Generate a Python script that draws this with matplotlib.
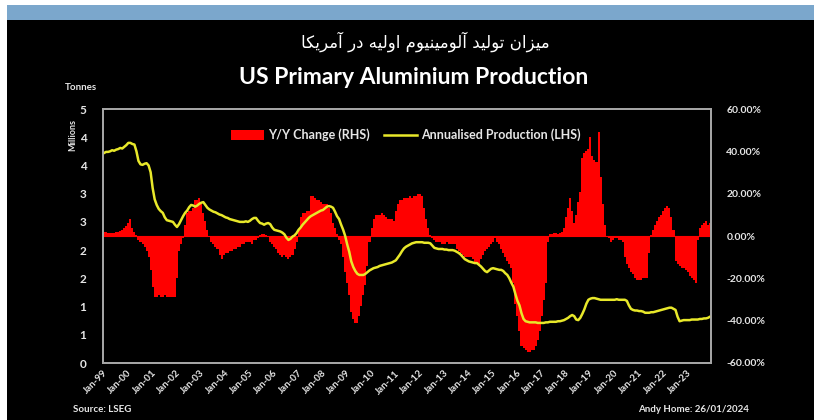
import numpy as np
import matplotlib.pyplot as plt
from matplotlib.patches import Rectangle, Patch
from matplotlib.lines import Line2D

# Annualised production, million tonnes (monthly, Jan-99 .. Dec-23)
prod = [
    3.72, 3.74, 3.74, 3.75, 3.77, 3.76, 3.78, 3.79, 3.81, 3.80, 3.83, 3.86,  # 1999
    3.90, 3.90, 3.88, 3.87, 3.75, 3.58, 3.52, 3.51, 3.53, 3.54, 3.50, 3.38,  # 2000
    3.10, 2.90, 2.80, 2.73, 2.69, 2.66, 2.58, 2.53, 2.52, 2.51, 2.50, 2.45,  # 2001
    2.41, 2.46, 2.53, 2.60, 2.66, 2.70, 2.76, 2.80, 2.79, 2.77, 2.79, 2.82,  # 2002
    2.84, 2.85, 2.80, 2.75, 2.72, 2.70, 2.68, 2.67, 2.65, 2.63, 2.62, 2.60,  # 2003
    2.58, 2.57, 2.55, 2.54, 2.53, 2.52, 2.51, 2.50, 2.50, 2.50, 2.51, 2.50,  # 2004
    2.52, 2.55, 2.57, 2.57, 2.52, 2.48, 2.47, 2.45, 2.47, 2.48, 2.46, 2.40,  # 2005
    2.36, 2.35, 2.34, 2.33, 2.31, 2.28, 2.22, 2.18, 2.20, 2.24, 2.26, 2.30,  # 2006
    2.36, 2.40, 2.45, 2.49, 2.53, 2.57, 2.60, 2.62, 2.64, 2.66, 2.68, 2.70,  # 2007
    2.71, 2.74, 2.77, 2.78, 2.77, 2.75, 2.68, 2.60, 2.55, 2.45, 2.36, 2.25,  # 2008
    2.10, 1.97, 1.80, 1.70, 1.63, 1.58, 1.56, 1.56, 1.56, 1.58, 1.61, 1.64,  # 2009
    1.66, 1.68, 1.69, 1.70, 1.72, 1.73, 1.74, 1.75, 1.76, 1.77, 1.78, 1.80,  # 2010
    1.82, 1.87, 1.92, 1.98, 2.03, 2.06, 2.08, 2.10, 2.12, 2.13, 2.14, 2.14,  # 2011
    2.14, 2.14, 2.13, 2.13, 2.13, 2.12, 2.08, 2.04, 2.03, 2.02, 2.02, 2.02,  # 2012
    2.01, 2.01, 2.00, 2.00, 2.00, 1.99, 1.97, 1.95, 1.92, 1.88, 1.84, 1.82,  # 2013
    1.80, 1.79, 1.78, 1.77, 1.77, 1.74, 1.71, 1.67, 1.63, 1.61, 1.64, 1.67,  # 2014
    1.68, 1.67, 1.66, 1.65, 1.65, 1.63, 1.59, 1.56, 1.50, 1.42, 1.35, 1.22,  # 2015
    1.10, 1.02, 0.88, 0.78, 0.74, 0.73, 0.72, 0.72, 0.72, 0.72, 0.71, 0.71,  # 2016
    0.71, 0.71, 0.72, 0.72, 0.73, 0.73, 0.73, 0.73, 0.74, 0.74, 0.75, 0.76,  # 2017
    0.78, 0.80, 0.83, 0.85, 0.83, 0.77, 0.76, 0.80, 0.87, 0.95, 1.05, 1.12,  # 2018
    1.14, 1.15, 1.15, 1.14, 1.13, 1.12, 1.12, 1.12, 1.12, 1.12, 1.12, 1.12,  # 2019
    1.12, 1.13, 1.12, 1.12, 1.12, 1.12, 1.10, 1.02, 0.96, 0.94, 0.93, 0.93,  # 2020
    0.92, 0.92, 0.91, 0.89, 0.89, 0.89, 0.90, 0.90, 0.91, 0.92, 0.93, 0.94,  # 2021
    0.95, 0.96, 0.97, 0.98, 0.98, 0.96, 0.94, 0.82, 0.74, 0.75, 0.76, 0.76,  # 2022
    0.76, 0.76, 0.77, 0.77, 0.77, 0.77, 0.78, 0.78, 0.79, 0.79, 0.80, 0.82,  # 2023
]

# Y/Y change, percent
yoy = [
    2, 2, 1.5, 1.5, 1.5, 1.5, 2, 2, 2.5, 3, 4, 4.5,                  # 1999
    6, 7.8, 4, 2, 0.5, -2, -3, -4, -5, -7, -10, -16,                 # 2000
    -24, -29, -29, -28, -29, -29, -28, -29, -29, -29, -29, -29,      # 2001
    -20, -7, -4, -1, 5, 11, 12, 12, 13, 17, 17, 18,                  # 2002
    15, 11, 7, 3, 0, -3, -4, -5, -6, -9, -11, -9,                    # 2003
    -8, -8, -7, -7, -6, -6, -5, -5, -4, -4, -3, -3,                  # 2004
    -3, -4, -2, -2, -1, 0.5, 1, 1, 0.5, -0.5, -3, -4,                # 2005
    -5, -6, -8, -9, -10, -9, -10, -11, -10, -9, -6, -3,              # 2006
    3, 9, 11, 11, 12, 12, 19, 19, 18, 17, 17, 16,                    # 2007
    15, 15, 15, 13, 11, 6, 4, 1, -2, -4, -10, -17,                   # 2008
    -22, -28, -36, -39, -41, -41, -38, -33, -28, -23, -14, -3,       # 2009
    4, 8, 10, 10, 10, 11, 10, 9, 8, 8, 8, 7,                         # 2010
    12, 15, 17, 17, 18, 18, 18, 19, 18, 19, 19, 20,                  # 2011
    20, 19, 13, 8, 4, 0.5, -1, -2, -3, -3, -3, -4,                   # 2012
    -4, -3, -4, -4, -4, -4, -6, -7, -8, -9, -10, -10,                # 2013
    -10, -10, -11, -13, -13, -13, -11, -9, -7, -6, -5, -4,           # 2014
    -3, -1, -3, -4, -6, -8, -10, -12, -13, -15, -22, -32,            # 2015
    -38, -45, -52, -53, -54, -55, -55, -54, -54, -52, -49, -45,      # 2016
    -38, -30, -22, -3, 1, 1, 1.5, 1.5, 1, 1.5, 2, 4,                 # 2017
    9, 13, 18, 12, 6, 10, 16, 21, 37, 39, 40, 41,                    # 2018
    47, 38, 36, 35, 49, 28, 15, 5, 0, -1, -3, -2,                    # 2019
    -1, -1, -2, -2, -3, -10, -13, -15, -17, -18, -20, -21,           # 2020
    -21, -21, -20, -20, -20, -8, 0.5, 3, 5, 7, 9, 10,                # 2021
    12, 13, 14, 13, 9, 3, -12, -13, -14, -15, -15, -16,              # 2022
    -17, -19, -20, -21, -22, -2, 4, 5, 6, 7, 5, 6,                   # 2023
]

years = list(range(1999, 2024))
xlabels = [f"Jan-{y % 100:02d}" for y in years]

title_fa = "میزان تولید آلومینیوم اولیه در آمریکا"
title_en = "US Primary Aluminium Production"


# matplotlib has no Arabic shaping: pick contextual forms, then reverse
FORMS = {
    '\u0627': ('\uFE8D', '\uFE8E', None, None),
    '\u0622': ('\uFE81', '\uFE82', None, None),
    '\u062A': ('\uFE95', '\uFE96', '\uFE97', '\uFE98'),
    '\u062F': ('\uFEA9', '\uFEAA', None, None),
    '\u0631': ('\uFEAD', '\uFEAE', None, None),
    '\u0632': ('\uFEAF', '\uFEB0', None, None),
    '\u0644': ('\uFEDD', '\uFEDE', '\uFEDF', '\uFEE0'),
    '\u0645': ('\uFEE1', '\uFEE2', '\uFEE3', '\uFEE4'),
    '\u0646': ('\uFEE5', '\uFEE6', '\uFEE7', '\uFEE8'),
    '\u0647': ('\uFEE9', '\uFEEA', '\uFEEB', '\uFEEC'),
    '\u0648': ('\uFEED', '\uFEEE', None, None),
    '\u06CC': ('\uFBFC', '\uFBFD', '\uFBFE', '\uFBFF'),
    '\u06A9': ('\uFB8E', '\uFB8F', '\uFB90', '\uFB91'),
}


def shape_fa(s):
    out = []
    for i, c in enumerate(s):
        if c not in FORMS:
            out.append(c)
            continue
        prev = s[i - 1] if i > 0 else ''
        nxt = s[i + 1] if i + 1 < len(s) else ''
        join_prev = prev in FORMS and FORMS[prev][2] is not None
        join_next = nxt in FORMS and FORMS[c][2] is not None
        iso, fin, ini, med = FORMS[c]
        if join_prev and join_next:
            out.append(med)
        elif join_prev:
            out.append(fin)
        elif join_next:
            out.append(ini)
        else:
            out.append(iso)
    return ''.join(out)[::-1]


plt.rcParams['font.family'] = ['Lato', 'DejaVu Sans']
plt.rcParams['font.weight'] = 'bold'

W, H = 814, 420
fig = plt.figure(figsize=(W / 100, H / 100), dpi=100, facecolor='white')
fig.patches.append(Rectangle((7 / W, 0), 1, 1 - 20 / H, transform=fig.transFigure,
                             facecolor='black', edgecolor='none', zorder=-2))
fig.patches.append(Rectangle((7 / W, 1 - 20 / H), 1, 15 / H, transform=fig.transFigure,
                             facecolor='#7BA7CC', edgecolor='none', zorder=-2))

ax = fig.add_axes([103 / W, 1 - 363 / H, 608 / W, 254 / H])
ax2 = ax.twinx()

n = len(prod)
x = np.arange(n) + 0.5

ax2.bar(x, np.array(yoy) / 100, width=1.0, color='#FF0000', linewidth=0,
        antialiased=False)
ax2.axhline(0, color='#FF0000', lw=0.8)
ax.plot(x, prod, color='#E8E82A', lw=1.8)

ax.set_zorder(ax2.get_zorder() + 1)
ax.patch.set_visible(False)
ax2.patch.set_facecolor('black')

ax.set_xlim(0, n)
ax.set_ylim(0, 4.5)
ax2.set_ylim(-0.6, 0.6)

txt = '#E6E6E6'
ax.set_yticks(np.arange(0, 4.51, 0.5))
ax.set_yticklabels([f"{np.floor(v + 0.5):.0f}" for v in np.arange(0, 4.51, 0.5)])
ax2.set_yticks(np.arange(-0.6, 0.61, 0.2))
ax2.set_yticklabels([f"{v * 100:.2f}%" for v in np.arange(-0.6, 0.61, 0.2)])
ax.set_xticks(np.arange(0, n, 12))
ax.set_xticklabels(xlabels, rotation=45, ha='right', rotation_mode='anchor')

ax.tick_params(axis='y', length=0, labelsize=8.5, colors=txt, pad=12)
ax2.tick_params(axis='y', length=0, labelsize=7.5, colors=txt, pad=11)
ax.tick_params(axis='x', length=0, labelsize=7, colors=txt, pad=4)

for a in (ax, ax2):
    for sp in a.spines.values():
        sp.set_color('#A6A6A6')
        sp.set_linewidth(1.3)

handles = [Patch(facecolor='#FF0000', edgecolor='none'),
           Line2D([], [], color='#E8E82A', lw=1.8)]
leg = ax.legend(handles, ['Y/Y Change (RHS)', 'Annualised Production (LHS)'],
                loc='center', bbox_to_anchor=(0.498, 0.898), ncol=2, frameon=False,
                fontsize=9, handlelength=2.6, handleheight=0.8, columnspacing=1.2,
                handletextpad=0.3)
for t in leg.get_texts():
    t.set_color(txt)

fig.text(425 / W, 1 - 42 / H, shape_fa(title_fa), family='DejaVu Sans', weight='normal',
         fontsize=12, color='white', ha='center', va='center')
fig.text(414 / W, 1 - 78 / H, title_en, fontsize=16.5, color='white', ha='center',
         va='center')
fig.text(81 / W, 1 - 88 / H, 'Tonnes', fontsize=7, color=txt, ha='center', va='center')
fig.text(73 / W, 1 - 135 / H, 'Millions', fontsize=6.5, color=txt, ha='center',
         va='center', rotation=90)
fig.text(73 / W, 1 - 410 / H, 'Source: LSEG', fontsize=7, color=txt, ha='left', va='center')
fig.text(749 / W, 1 - 410 / H, 'Andy Home: 26/01/2024', fontsize=7, color=txt,
         ha='right', va='center')

fig.savefig('out.png', dpi=100, facecolor=fig.get_facecolor())
